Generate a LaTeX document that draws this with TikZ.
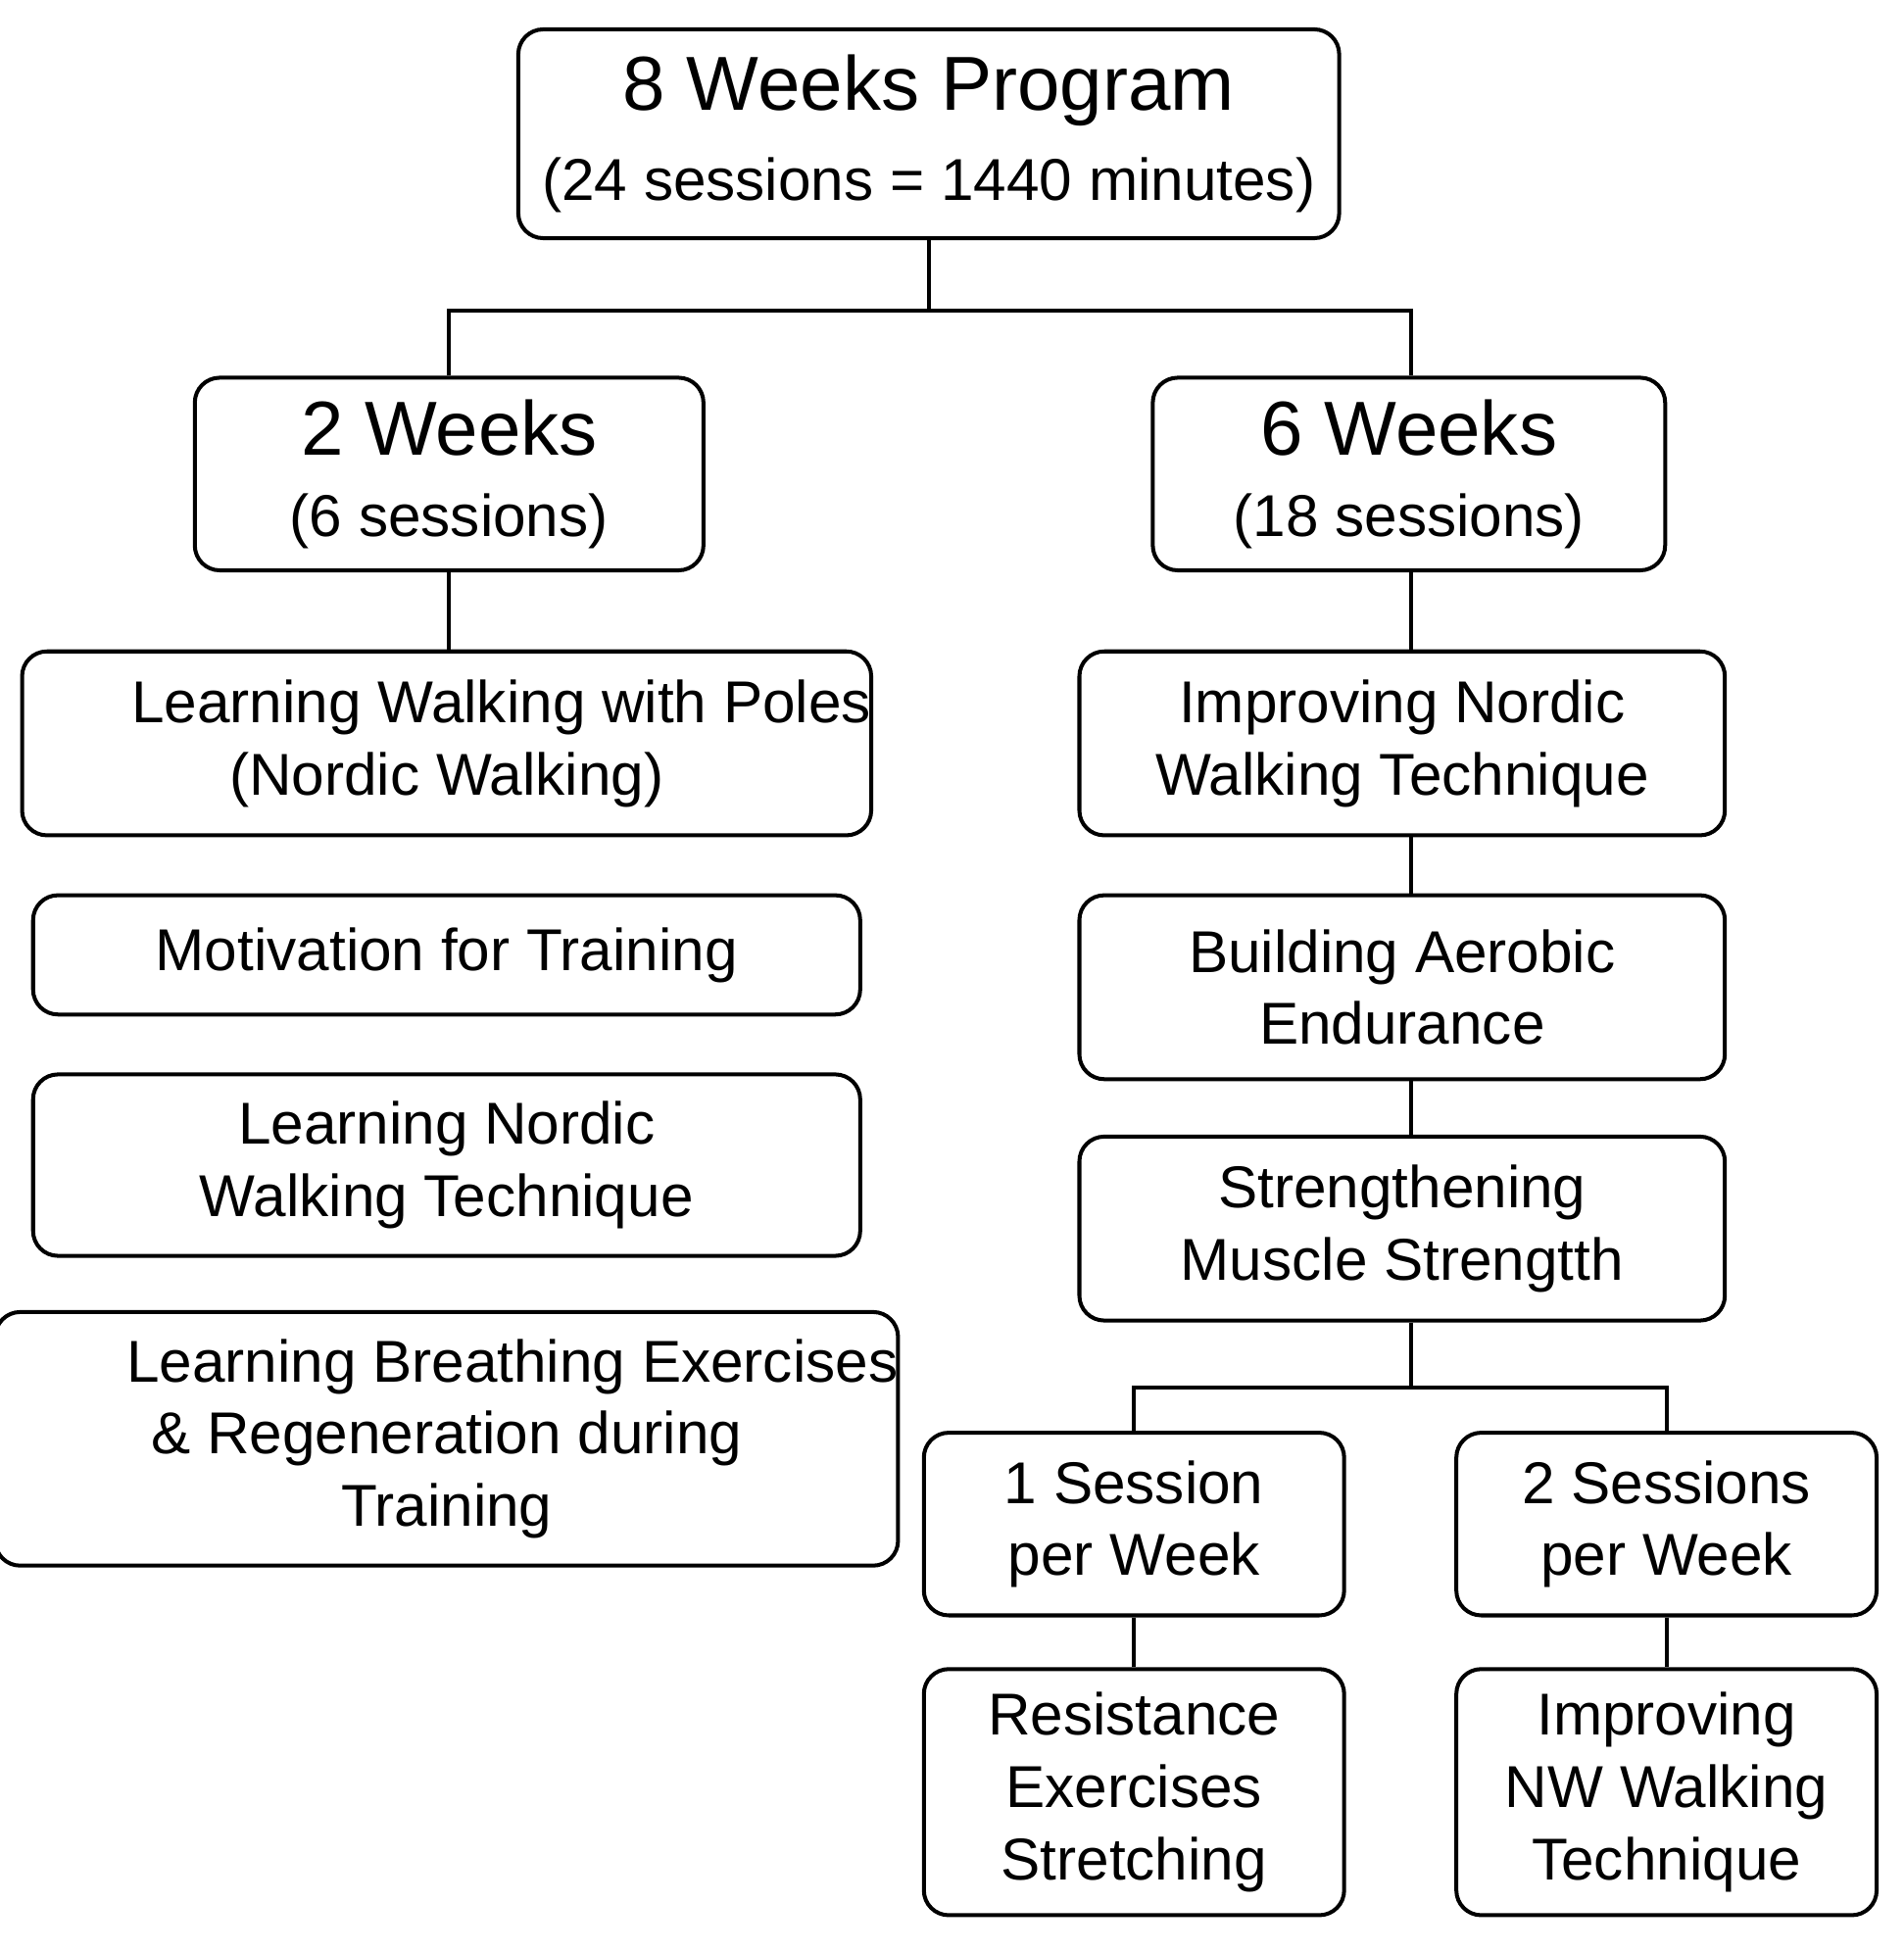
\documentclass[tikz,border=0pt]{standalone}
\usepackage{fontspec}
\setmainfont{Liberation Sans}
\begin{document}
\begin{tikzpicture}[x=0.01cm,y=-0.01cm,
  box/.style={draw,line width=0.9pt,rounded corners=0.2cm,align=center,inner sep=0pt,font=\fontsize{13.5}{16.5}\selectfont},
  ln/.style={line width=0.9pt}]
\useasboundingbox (0,0) rectangle (1530,1569);
\newcommand{\bx}[6]{\node[box,#6,minimum width=#3*0.01cm-0.9pt,minimum height=#4*0.01cm-0.9pt] (#1) at (#2) {#5};}
\bx{top}{746.5,107.5}{663}{171}{{\fontsize{17.5}{20}\selectfont 8 Weeks Program}\\[4pt]{\fontsize{13.5}{16}\selectfont (24 sessions = 1440 minutes)}}{}
\bx{w2}{361,381}{412}{158}{{\fontsize{17.5}{20}\selectfont 2 Weeks}\\[2pt](6 sessions)}{}
\bx{w6}{1132.5,381}{415}{158}{{\fontsize{17.5}{20}\selectfont 6 Weeks}\\[2pt](18 sessions)}{}
\bx{l1}{359,597.5}{668}{151}{\hspace*{25pt}Learning Walking with Poles\\(Nordic Walking)}{}
\bx{l2}{359,767.5}{668}{99}{Motivation for Training}{}
\bx{l3}{359,936.5}{668}{149}{Learning Nordic\\Walking Technique}{}
\bx{l4}{359,1156.5}{668}{207}{\hspace*{30pt}Learning Breathing Exercises\\\&\ Regeneration during\\Training}{}
\bx{r1}{1127,597.5}{522}{151}{Improving Nordic\\Walking Technique}{}
\bx{r2}{1127,793.5}{522}{151}{Building Aerobic\\Endurance}{}
\bx{r3}{1127,987.5}{522}{151}{Strengthening\\Muscle Strengtth}{}
\bx{s1}{911.5,1225}{341}{150}{1 Session\\per Week}{}
\bx{s2}{1339.5,1225}{341}{150}{2 Sessions\\per Week}{}
\bx{b1}{911.5,1440.5}{341}{201}{Resistance\\Exercises\\Stretching}{}
\bx{b2}{1339.5,1440.5}{341}{201}{Improving\\NW Walking\\Technique}{}
\coordinate (j1) at (746.5,250);
\coordinate (j2) at (1134,1115);
\draw[ln] (top.south) -- (j1);
\draw[ln] (w2.north) |- (j1) -| (1134,302);
\draw[ln] (w2.south) -- (361,522);
\draw[ln] (1134,460) -- (1134,522);
\draw[ln] (1134,673) -- (1134,718);
\draw[ln] (1134,869) -- (1134,912);
\draw[ln] (1134,1063) -- (j2);
\draw[ln] (s1.north) |- (j2) -| (s2.north);
\draw[ln] (s1.south) -- (b1.north);
\draw[ln] (s2.south) -- (b2.north);
\end{tikzpicture}
\end{document}
